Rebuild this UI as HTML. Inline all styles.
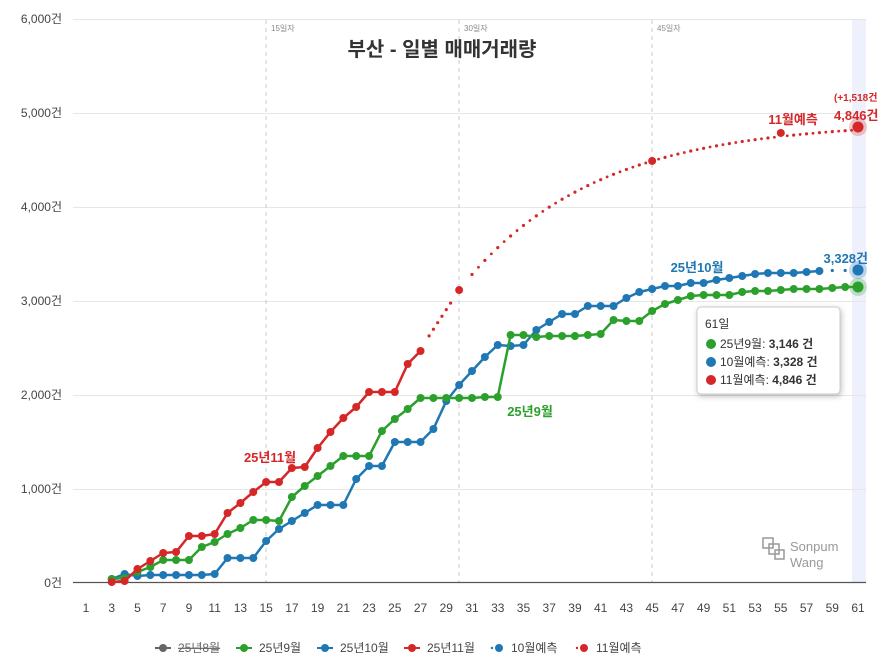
<!DOCTYPE html>
<html><head><meta charset="utf-8"><style>
html,body{margin:0;padding:0;background:#fff;width:889px;height:663px;overflow:hidden}
svg{display:block;font-family:"Liberation Sans","Noto Sans CJK KR",sans-serif}
</style></head><body>
<svg id="c" width="889" height="663" viewBox="0 0 889 663">
<rect x="852" y="19" width="14" height="563" fill="#eef0fc"/>
<g stroke="#e6e6e6" stroke-width="1">
<line x1="73" y1="19.5" x2="866" y2="19.5"/><line x1="73" y1="113.5" x2="866" y2="113.5"/>
<line x1="73" y1="207.5" x2="866" y2="207.5"/><line x1="73" y1="301.5" x2="866" y2="301.5"/>
<line x1="73" y1="395.5" x2="866" y2="395.5"/><line x1="73" y1="489.5" x2="866" y2="489.5"/>
</g>
<g stroke="#c8c8c8" stroke-dasharray="4,4" stroke-width="1">
<line x1="266" y1="20" x2="266" y2="582"/><line x1="459" y1="20" x2="459" y2="582"/><line x1="652" y1="20" x2="652" y2="582"/>
</g>
<g font-size="8" fill="#888"><text x="271" y="31">15일자</text><text x="464" y="31">30일자</text><text x="657" y="31">45일자</text></g>
<line x1="73" y1="582.5" x2="866" y2="582.5" stroke="#555" stroke-width="1.2"/>
<g font-size="12" fill="#444" text-anchor="end">
<text x="62" y="23">6,000건</text><text x="62" y="117">5,000건</text><text x="62" y="211">4,000건</text>
<text x="62" y="305">3,000건</text><text x="62" y="399">2,000건</text><text x="62" y="493">1,000건</text><text x="62" y="587">0건</text>
</g>
<text x="442" y="56" font-size="20" font-weight="bold" fill="#333" text-anchor="middle">부산 - 일별 매매거래량</text>
<g id="xl" font-size="12" fill="#444" text-anchor="middle"></g>
<g id="series"></g>
<g font-size="13" font-weight="bold">
<text x="270" y="462" fill="#d62728" text-anchor="middle">25년11월</text>
<text x="530" y="416" fill="#2ca02c" text-anchor="middle">25년9월</text>
<text x="697" y="272" fill="#1f77b4" text-anchor="middle">25년10월</text>
<text x="868" y="263" fill="#1f77b4" text-anchor="end">3,328건</text>
<text x="793" y="124" fill="#d62728" text-anchor="middle">11월예측</text>
<text x="834" y="120" fill="#d62728">4,846건</text>
<text x="834" y="101" fill="#d62728" font-size="10">(+1,518건</text>
</g>
<rect x="697" y="307" width="143" height="87" rx="4" fill="#fff" stroke="#ccc" style="filter:drop-shadow(1px 2px 3px rgba(0,0,0,.25))"/>
<g font-size="12" fill="#333">
<text x="705" y="328">61일</text>
<circle cx="711" cy="344" r="5" fill="#2ca02c"/><text x="720" y="348">25년9월: <tspan font-weight="bold">3,146 건</tspan></text>
<circle cx="711" cy="362" r="5" fill="#1f77b4"/><text x="720" y="366">10월예측: <tspan font-weight="bold">3,328 건</tspan></text>
<circle cx="711" cy="380" r="5" fill="#d62728"/><text x="720" y="384">11월예측: <tspan font-weight="bold">4,846 건</tspan></text>
</g>
<g fill="none" stroke="#999" stroke-width="1.5">
<rect x="763" y="538" width="10" height="10"/><rect x="769" y="544" width="10" height="10"/><rect x="775" y="550" width="9" height="9"/>
</g>
<text x="790" y="551" font-size="13" fill="#999">Sonpum</text>
<text x="790" y="567" font-size="13" fill="#999">Wang</text>
<g font-size="12" fill="#444">
<line x1="155" y1="648" x2="171" y2="648" stroke="#666" stroke-width="2"/><circle cx="163" cy="648" r="4" fill="#666"/>
<text x="178" y="652" fill="#666" text-decoration="line-through">25년8월</text>
<line x1="236" y1="648" x2="252" y2="648" stroke="#2ca02c" stroke-width="2"/><circle cx="244" cy="648" r="4" fill="#2ca02c"/>
<text x="259" y="652">25년9월</text>
<line x1="317" y1="648" x2="333" y2="648" stroke="#1f77b4" stroke-width="2"/><circle cx="325" cy="648" r="4" fill="#1f77b4"/>
<text x="340" y="652">25년10월</text>
<line x1="404" y1="648" x2="420" y2="648" stroke="#d62728" stroke-width="2"/><circle cx="412" cy="648" r="4" fill="#d62728"/>
<text x="427" y="652">25년11월</text>
<circle cx="492" cy="648" r="1.2" fill="#1f77b4"/><circle cx="499" cy="648" r="4" fill="#1f77b4"/>
<text x="511" y="652">10월예측</text>
<circle cx="577" cy="648" r="1.2" fill="#d62728"/><circle cx="584" cy="648" r="4" fill="#d62728"/>
<text x="596" y="652">11월예측</text>
</g>
</svg>
<script>
var NS="http://www.w3.org/2000/svg";
function X(d){return 86+(d-1)*12.867;}
function el(t,a,p){var e=document.createElementNS(NS,t);for(var k in a)e.setAttribute(k,a[k]);p.appendChild(e);return e;}
var xl=document.getElementById('xl');
for(var d=1;d<=61;d+=2){var t=el('text',{x:X(d),y:612},xl);t.textContent=d;}
var S=document.getElementById('series');
var red=[582,581,569,561,553,552,536,536,534,513,503,492,482,482,468,467,448,432,418,407,392,392,392,364,351];
var green=[579,578,572,567,560,560,560,547,542,534,528,520,520,521,497,486,476,466,456,456,456,431,419,409,398,398,398,398,398,397,397,335,335,337,336,336,336,335,334,320,321,321,311,304,300,296,295,295,295,292,291,291,290,289,289,289,288,287,287];
var blue=[579,574,576,575,575,575,575,575,574,558,558,558,541,529,521,513,505,505,505,479,466,466,442,442,442,429,401,385,371,357,345,346,345,330,322,314,314,306,306,306,298,292,289,286,286,283,283,280,278,276,274,273,273,273,272,271];
function line(arr,col){var pts=arr.map(function(y,i){return X(i+3).toFixed(1)+','+y;}).join(' ');
el('polyline',{points:pts,fill:'none',stroke:col,'stroke-width':2.5,'stroke-linejoin':'round'},S);
arr.forEach(function(y,i){el('circle',{cx:X(i+3),cy:y,r:4,fill:col},S);});}
// red forecast dots
function vy(v){return 582-v*0.094;}
for(var d=27;d<=61;d++){var v;
 if(d<=30){v=2480+(3106-2480)*(d-27)/3;}else{v=4900-1794*Math.exp(-0.0966*(d-30));}
 if(d==61)v=4846; if(d==55)v=4777; if(d==45)v=4479;
 if(d>27)el('circle',{cx:X(d),cy:vy(v),r:1.6,fill:'#d62728'},S);
 if(d==30||d==45||d==55)el('circle',{cx:X(d),cy:vy(v),r:4,fill:'#d62728'},S);
 if(d>27&&d<30){el('circle',{cx:X(d)-4.3,cy:vy(v-70),r:1.6,fill:'#d62728'},S);el('circle',{cx:X(d)+4.3,cy:vy(v+70),r:1.6,fill:'#d62728'},S);}
 if(d>30&&d<61){var v2=4900-1794*Math.exp(-0.0966*(d+0.5-30));el('circle',{cx:X(d+0.5),cy:vy(v2),r:1.4,fill:'#d62728'},S);}
}
line(blue,'#1f77b4');line(green,'#2ca02c');line(red,'#d62728');
for(var d=59;d<61;d++)el('circle',{cx:X(d),cy:270.5,r:1.6,fill:'#1f77b4'},S);
el('circle',{cx:X(61),cy:270,r:9,fill:'#1f77b4',opacity:0.25},S);el('circle',{cx:X(61),cy:270,r:5.5,fill:'#1f77b4'},S);
el('circle',{cx:X(61),cy:287,r:9,fill:'#2ca02c',opacity:0.25},S);el('circle',{cx:X(61),cy:287,r:5.5,fill:'#2ca02c'},S);
el('circle',{cx:X(61),cy:127,r:9,fill:'#d62728',opacity:0.25},S);el('circle',{cx:X(61),cy:127,r:5.5,fill:'#d62728'},S);
</script>
</body></html>
